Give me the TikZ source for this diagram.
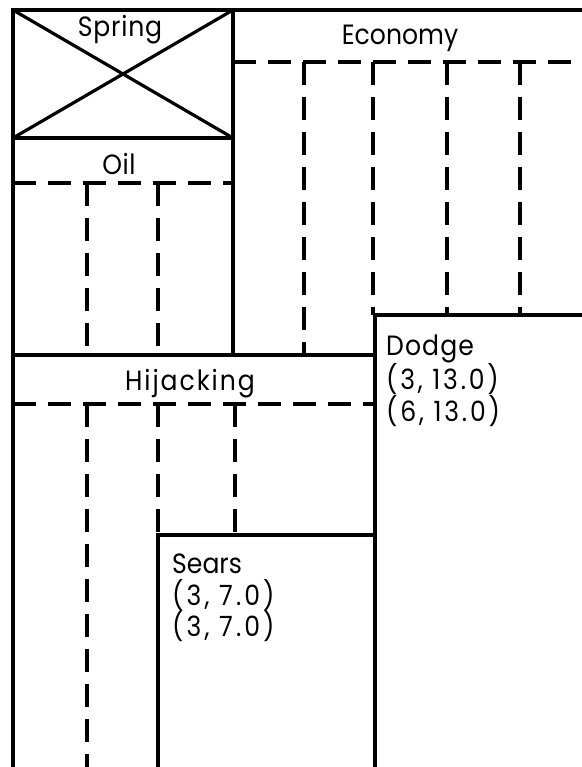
\documentclass[tikz,border=0pt]{standalone}
\usepackage{fontspec}
\setmainfont[FakeStretch=0.9]{Poppins}
\usetikzlibrary{calc}

\begin{document}
\begin{tikzpicture}[line cap=butt,line join=miter,x=1bp,y=-1bp,
  frame/.style={line width=3.2bp},
  grid/.style={line width=3.2bp,dash pattern=on 23bp off 12bp},
  lbl/.style={inner sep=0pt,anchor=base,font=\fontsize{28}{32}\selectfont\addfontfeature{LetterSpace=#1}},
  lbl/.default=0,
  entry/.style={inner sep=0pt,anchor=base west,font=\fontsize{28}{32}\selectfont\addfontfeature{LetterSpace=#1}},
  entry/.default=0]
\useasboundingbox (0,0) rectangle (582,767);
% corners of the boxes
\coordinate (tl) at (13,10);
\coordinate (tr) at (582,10);
\coordinate (bl) at (13,767);
\coordinate (sp) at (233,138);
\coordinate (hj) at (375,355);
\coordinate (dg) at (375,315);
\coordinate (sr) at (158,535);
% solid frame
\draw [frame] (tr) -- (tl) -- (bl);
\draw [frame] (tl) rectangle (sp);
\draw [frame] (tl) -- (sp) (tl -| sp) -- (tl |- sp);
\draw [frame] (tl -| sp) -- (hj -| sp);
\draw [frame] (hj -| tl) -- (hj);
\draw [frame] (582,315) -- (dg) -- (375,767);
\draw [frame] (dg |- sr) -- (sr) -- (158,767);
% dashed grid
\draw [grid] (13,183) -- (233,183);
\draw [grid] (233,62) -- (582,62);
\draw [grid] (13,404) -- (375,404);
\foreach \x in {87,158} \draw [grid] (\x,183) -- (\x,355);
\draw [grid] (304,62) -- (304,355);
\foreach \x in {373,447,520} \draw [grid] (\x,62) -- (\x,315);
\draw [grid] (87,404) -- (87,767);
\foreach \x in {158,235} \draw [grid] (\x,404) -- (\x,535);
% labels
\node [lbl=3] (spring) at (120,37) {Spring};
\node [lbl=2] (oil) at (119,174) {Oil};
\node [lbl] (economy) at (400,45) {Economy};
\node [lbl=7] (hijacking) at (190,390) {Hijacking};
\node [entry=4] (dodge) at (386,355) {Dodge};
\node [entry=10] (dodge a) at (386,389) {(3, 13.0)};
\node [entry=10] (dodge b) at (386,421) {(6, 13.0)};
\node [entry] (sears) at (172,573) {Sears};
\node [entry=11] (sears a) at (172,605) {(3, 7.0)};
\node [entry=11] (sears b) at (172,636) {(3, 7.0)};
\end{tikzpicture}
\end{document}
